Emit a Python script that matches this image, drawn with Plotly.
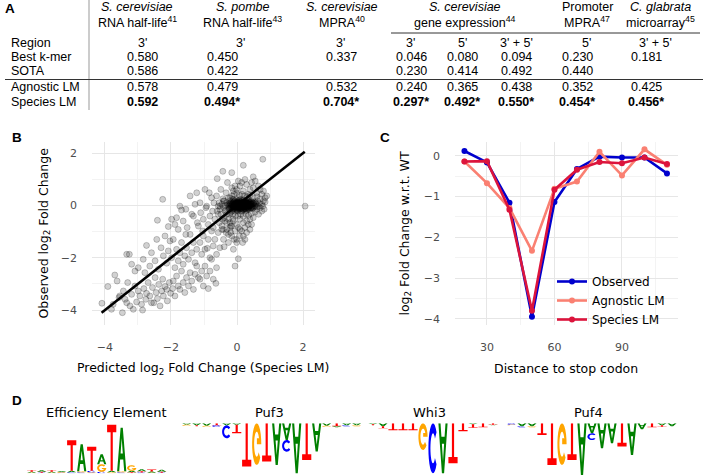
import math
import plotly.graph_objects as go

W, H = 708, 476


def fx(px):
    return px / W


def fy(py):
    return 1 - py / H


# ---------- Panel A: table ----------
table_titles = [
    ("<i>S. cerevisiae</i>", "RNA half-life<sup>41</sup>"),
    ("<i>S. pombe</i>", "RNA half-life<sup>43</sup>"),
    ("<i>S. cerevisiae</i>", "MPRA<sup>40</sup>"),
    ("<i>S. cerevisiae</i>", "gene expression<sup>44</sup>"),
    ("Promoter", "MPRA<sup>47</sup>"),
    ("<i>C. glabrata</i>", "microarray<sup>45</sup>"),
]
row_labels = ["Region", "Best k-mer", "SOTA", "Agnostic LM", "Species LM"]
regions = ["3'", "3'", "3'", "3'", "5'", "3' + 5'", "5'", "3' + 5'"]
best_kmer = ["0.580", "0.450", "0.337", "0.046", "0.080", "0.094", "0.230", "0.181"]
sota = ["0.586", "0.422", "", "0.230", "0.414", "0.492", "0.440", ""]
agnostic = ["0.578", "0.479", "0.532", "0.240", "0.365", "0.438", "0.352", "0.425"]
species = ["0.592", "0.494*", "0.704*", "0.297*", "0.492*", "0.550*", "0.454*", "0.456*"]

# ---------- Panel B: observed vs predicted ----------
scatter_points = [
    # lower-left tail
    (-4.09, -3.74), (-3.91, -3.10), (-3.80, -3.97), (-3.75, -3.78), (-3.70, -2.66),
    (-3.63, -2.89), (-3.57, -3.52), (-3.55, -3.46), (-3.47, -4.10), (-3.44, -3.27),
    (-3.39, -3.59), (-3.34, -3.72), (-3.31, -2.95), (-3.24, -3.84), (-3.19, -3.40),
    (-3.14, -3.97), (-3.09, -3.08), (-3.04, -3.69), (-2.99, -3.27), (-2.94, -3.46),
    (-2.89, -3.78), (-2.86, -4.00), (-2.82, -3.18), (-2.76, -3.59), (-2.74, -3.36),
    (-2.69, -2.95), (-2.64, -3.46), (-2.59, -3.72), (-2.56, -3.14), (-2.52, -3.72),
    (-2.48, -2.76), (-2.45, -3.33), (-2.41, -3.56), (-2.37, -3.02), (-2.33, -3.84),
    (-2.28, -3.27), (-2.23, -3.46), (-2.25, -2.82), (-2.18, -3.10), (-2.13, -3.21),
    (-2.11, -3.65), (-2.05, -2.95), (-2.01, -3.36), (-1.95, -3.18), (-1.93, -2.89),
    (-1.88, -3.46), (-1.83, -2.70), (-1.78, -3.08), (-1.73, -3.21), (-1.68, -2.51),
    (-1.63, -2.95), (-1.58, -3.33), (-1.53, -2.76), (-1.47, -3.08), (-1.42, -2.57),
    (-1.37, -2.89), (-1.32, -3.21), (-1.27, -2.63), (-1.22, -2.32), (-1.17, -2.76),
    (-1.12, -2.82), (-1.07, -2.51), (-1.02, -3.08), (-0.97, -2.32), (-0.92, -2.70),
    (-0.87, -3.18), (-0.82, -2.51), (-0.77, -2.06), (-0.72, -2.82), (-0.64, -2.98),
    (-0.62, -2.38),
    # middle band
    (-3.34, -1.87), (-3.26, -1.87), (-3.19, -2.25), (-3.09, -2.51), (-2.99, -2.38),
    (-2.84, -2.06), (-2.79, -2.57), (-2.74, -1.53), (-2.64, -2.32), (-2.59, -1.81),
    (-2.48, -2.12), (-2.43, -1.30), (-2.38, -2.44), (-2.30, -1.62), (-2.23, -1.93),
    (-2.18, -1.17), (-2.13, -2.21), (-2.08, -1.74), (-2.03, -1.36), (-1.98, -2.00),
    (-1.93, -1.30), (-1.88, -2.38), (-1.83, -1.68), (-1.78, -2.12), (-1.73, -1.81),
    (-1.68, -1.42), (-1.63, -2.25), (-1.58, -1.93), (-1.55, -1.11), (-1.53, -1.62),
    (-1.47, -2.06), (-1.42, -1.11), (-1.37, -1.81), (-1.32, -1.42), (-1.27, -2.19),
    (-1.22, -1.68), (-1.17, -0.79), (-1.12, -1.42), (-1.07, -1.87), (-1.02, -1.17),
    (-0.97, -1.68), (-0.90, -1.64), (-0.87, -1.30), (-0.82, -2.00), (-0.77, -0.98),
    (-0.72, -1.55), (-0.67, -1.30), (-0.62, -1.87), (-0.57, -1.04), (-0.52, -1.62),
    (-0.46, -0.79), (-0.41, -1.30), (-0.39, -1.58), (-0.33, -1.04), (-0.26, -1.42),
    (-0.21, -0.85), (-0.16, -1.17), (-0.11, -1.68), (-0.06, -2.32), (-0.01, -1.30),
    (0.04, -2.04), (0.09, -0.92), (0.19, -1.17),
    # upper middle
    (-2.41, -0.57), (-2.25, 0.23), (-2.08, -0.81), (-1.98, -0.53), (-1.88, -0.73),
    (-1.83, -0.47), (-1.78, -0.92), (-1.73, -0.03), (-1.68, -0.18), (-1.63, -0.60),
    (-1.55, -0.15), (-1.51, -0.85), (-1.42, 0.36), (-1.37, -0.34), (-1.32, -0.41),
    (-1.27, 0.04), (-1.22, 0.48), (-1.20, -0.66), (-1.12, 0.10), (-1.10, -0.28),
    (-1.04, -0.98), (-1.02, -0.53), (-0.97, 0.61), (-0.94, -0.09), (-0.92, -0.03),
    (-0.87, -0.73), (-0.84, 0.48), (-0.82, -0.41), (-0.77, 0.29), (-0.74, -0.22),
    (-0.72, -0.85), (-0.70, 0.10), (-0.67, -0.53), (-0.62, 0.36), (-0.60, 1.02),
    (-0.57, -0.34), (-0.54, -0.66), (-0.52, -0.03), (-0.49, 0.61), (-0.46, -0.92),
    (-0.43, 1.30), (-0.41, 0.17), (-0.39, -0.47), (-0.36, -0.22), (-0.33, 0.48),
    (-0.31, -0.66), (-0.29, 0.87), (-0.26, 0.04), (-0.23, -0.34), (-0.21, 0.29),
    (-0.19, -0.79), (-0.16, 1.25), (-0.16, 0.67), (-0.13, -0.53),
    # outliers
    (2.06, -0.03), (0.78, 1.76), (0.19, 1.53), (0.49, 1.09), (0.90, 0.36),
    (0.85, 0.13), (0.78, -0.03),
    # dense core
    (-0.31, 0.10), (-0.26, -0.03), (-0.23, -0.15), (-0.21, 0.17), (-0.19, 0.04),
    (-0.16, -0.09), (-0.16, -0.22), (-0.13, 0.23), (-0.11, 0.10), (-0.11, -0.03),
    (-0.11, -0.15), (-0.09, 0.04), (-0.08, -0.09), (-0.06, 0.17), (-0.06, -0.03),
    (-0.06, -0.22), (-0.04, 0.10), (-0.03, -0.09), (-0.01, 0.23), (-0.01, 0.04),
    (-0.01, -0.15), (0.01, -0.03), (0.02, 0.13), (0.03, -0.22), (0.04, 0.04),
    (0.05, -0.09), (0.07, 0.17), (0.07, -0.03), (0.09, 0.08), (0.09, -0.15),
    (0.11, 0.23), (0.11, 0.00), (0.13, -0.09), (0.14, 0.10), (0.15, -0.22),
    (0.17, 0.04), (0.17, 0.20), (0.19, -0.03), (0.19, -0.15), (0.21, 0.10),
    (0.23, 0.00), (0.24, 0.17), (0.24, -0.13), (0.26, 0.04), (0.27, -0.05),
    (0.29, 0.10), (0.29, -0.18), (0.31, 0.00), (0.33, 0.17), (0.34, -0.09),
    (0.36, 0.04), (0.37, -0.15), (0.39, 0.10), (0.41, -0.03), (0.43, 0.17),
    (0.44, -0.09), (0.47, 0.04), (0.49, -0.09), (0.52, 0.13), (0.55, -0.03),
    (0.58, 0.04), (0.60, -0.15), (0.62, 0.17), (0.65, -0.03), (0.68, 0.08),
    (0.70, -0.09), (0.75, 0.04), (0.80, 0.17), (0.82, -0.15),
    (-0.14, 0.06), (-0.12, -0.05), (-0.10, 0.12), (-0.08, -0.12), (-0.07, 0.02),
    (-0.05, 0.08), (-0.04, -0.06), (-0.02, 0.14), (-0.01, -0.01), (0.00, 0.07),
    (0.02, -0.10), (0.03, 0.02), (0.04, 0.11), (0.05, -0.04), (0.06, 0.06),
    (0.08, -0.12), (0.08, 0.01), (0.10, 0.09), (0.10, -0.06), (0.12, 0.03),
    (0.13, 0.14), (0.14, -0.02), (0.15, 0.07), (0.16, -0.10), (0.18, 0.01),
    (0.18, 0.12), (0.20, -0.06), (0.21, 0.05), (0.22, -0.14), (0.23, 0.09),
    (0.25, -0.02), (0.26, 0.13), (0.27, -0.09), (0.28, 0.03), (0.30, 0.08),
    (0.31, -0.05), (0.32, 0.14), (0.34, 0.01), (0.35, -0.11), (0.37, 0.06),
    (0.38, -0.02), (0.40, 0.11), (0.42, -0.07), (0.45, 0.03), (0.47, -0.12),
    (0.50, 0.07), (-0.18, -0.08), (-0.20, 0.08), (-0.22, 0.01), (-0.25, -0.12),
    (0.00, -0.18), (0.06, 0.20), (0.12, -0.20), (0.20, 0.20), (0.28, -0.20),
    (-0.10, 0.22), (0.36, 0.20), (0.44, 0.13), (0.55, 0.10), (0.60, -0.06),
    (-0.24, 0.05), (-0.22, -0.10), (-0.19, 0.12), (-0.17, -0.02), (-0.15, -0.15),
    (-0.13, 0.08), (-0.12, 0.00), (-0.10, -0.10), (-0.09, 0.15), (-0.07, -0.04),
    (-0.05, 0.04), (-0.03, -0.14), (-0.02, 0.09), (0.00, 0.00), (0.01, -0.07),
    (0.02, 0.05), (0.04, -0.16), (0.05, 0.13), (0.06, -0.01), (0.07, 0.09),
    (0.09, -0.09), (0.10, 0.03), (0.11, 0.15), (0.12, -0.13), (0.13, 0.06),
    (0.15, -0.04), (0.16, 0.10), (0.17, -0.16), (0.19, 0.02), (0.20, 0.14),
    (0.21, -0.09), (0.22, 0.06), (0.24, -0.03), (0.25, 0.10), (0.26, -0.14),
    (0.28, 0.00), (0.29, 0.13), (0.30, -0.08), (0.32, 0.05), (0.33, -0.13),
    (0.35, 0.09), (0.36, -0.04), (0.38, 0.12), (0.40, 0.00), (0.41, -0.11),
    (0.43, 0.06), (0.46, -0.05), (0.48, 0.10), (0.52, -0.02), (0.57, 0.08),
    (-0.02, 0.02), (0.03, -0.03), (0.08, 0.04), (0.14, 0.00), (0.18, -0.05),
    (0.23, 0.03), (0.27, 0.06), (0.31, 0.02), (0.11, -0.02), (0.20, 0.04),
    # ring around the core
    (-0.26, 0.29), (-0.21, -0.28), (-0.16, 0.36), (-0.13, -0.34), (-0.09, 0.42),
    (-0.05, -0.38), (-0.01, 0.48), (0.03, -0.41), (0.07, 0.38), (0.11, -0.34),
    (0.15, 0.42), (0.19, -0.41), (0.23, 0.36), (0.27, -0.34), (0.31, 0.33),
    (0.35, -0.38), (0.39, 0.38), (0.44, -0.31), (0.49, 0.29), (0.55, -0.25),
    (0.60, 0.33), (0.65, -0.34), (0.70, 0.25), (0.75, -0.22), (-0.41, -0.09),
    (-0.39, 0.17), (-0.36, 0.00), (-0.34, -0.18), (-0.46, 0.04), (-0.43, 0.25),
    (-0.52, -0.15), (-0.54, 0.10), (-0.57, -0.03), (-0.49, -0.34), (-0.45, -0.53),
    (-0.60, -0.22),
    (-0.01, 0.61), (0.09, 0.74), (0.19, 0.55), (0.29, 0.80), (0.39, 0.61),
    (0.49, 0.67), (0.04, 0.93), (0.24, 0.99), (0.34, 0.42), (0.14, 0.87),
    (-0.06, 0.74), (-0.11, 0.55), (0.60, 0.48), (0.70, 0.61), (0.75, 0.42),
    (0.44, 0.87), (0.55, 0.93), (0.80, 0.55), (0.85, 0.29), (0.65, 0.74),
    (0.09, -0.53), (0.19, -0.66), (0.29, -0.60), (0.39, -0.53), (-0.01, -0.73),
    (-0.11, -0.60), (0.04, -0.85), (0.14, -0.98), (0.24, -0.85), (0.34, -0.73),
    (-0.06, -0.98), (-0.16, -0.79), (0.49, -0.47), (0.44, -0.73), (-0.21, -0.66),
    (-0.26, -0.53), (-0.31, -0.34), (-0.36, -0.60), (-0.31, -0.92), (0.07, -1.17),
    (-0.01, -1.42), (-0.09, -1.30), (0.29, -1.04), (0.39, -0.92), (-0.26, -1.11),
    (-0.41, -0.92), (-0.19, -1.04), (0.17, -1.42), (0.24, -1.30),
]
pred_lfc = [p[0] for p in scatter_points]
obs_lfc = [p[1] for p in scatter_points]
identity_line = [-4.1, 2.05]

# ---------- Panel C: mutation scan ----------
distance = [20, 30, 40, 50, 60, 70, 80, 90, 100, 110]
observed = [0.12, -0.16, -1.15, -3.95, -1.13, -0.32, -0.02, -0.04, -0.04, -0.43]
agnostic_lm = [-0.14, -0.67, -1.28, -2.33, -0.81, -0.63, 0.10, -0.48, 0.16, -0.22]
species_lm = [-0.14, -0.13, -1.32, -3.80, -0.83, -0.34, -0.15, -0.18, -0.04, -0.20]

# ---------- Panel D: sequence logos (letter, height) from baseline outwards ----------
logo_titles = ["Efficiency Element", "Puf3", "Whi3", "Puf4"]
efficiency_logo = [
    [("G", 0.05), ("A", 0.1), ("T", 0.15)],
    [("C", 0.05), ("T", 0.1), ("A", 0.15)],
    [("G", 0.05), ("A", 0.1), ("T", 0.15)],
    [("C", 0.05), ("G", 0.08), ("A", 0.1)],
    [("C", 0.1), ("A", 0.15), ("T", 3.05)],
    [("C", 0.1), ("G", 0.1), ("A", 2.7)],
    [("G", 0.1), ("C", 0.15), ("T", 2.4)],
    [("C", 0.15), ("G", 0.75), ("A", 1.0)],
    [("G", 0.1), ("A", 0.15), ("T", 4.6)],
    [("C", 0.1), ("G", 0.1), ("A", 4.35)],
    [("T", 0.1), ("A", 0.15), ("G", 0.55)],
    [("C", 0.08), ("T", 0.12), ("A", 0.2)],
    [("G", 0.05), ("A", 0.12), ("T", 0.2)],
    [("C", 0.05), ("T", 0.1), ("A", 0.2)],
]
puf3_logo = [
    [("A", 0.15), ("G", 0.1)],
    [("A", 0.2), ("T", 0.1)],
    [("A", 0.25), ("G", 0.1)],
    [("T", 0.2), ("C", 0.15)],
    [("A", 0.2), ("C", 1.3)],
    [("A", 0.15), ("T", 0.85)],
    [("T", 4.33)],
    [("G", 4.17)],
    [("T", 3.83)],
    [("A", 4.17)],
    [("A", 1.67), ("C", 1.17)],
    [("A", 5.0)],
    [("T", 3.67)],
    [("A", 2.83)],
    [("A", 0.25), ("G", 0.1)],
    [("T", 0.3), ("A", 0.1)],
    [("A", 0.2), ("C", 0.1)],
    [("A", 0.2), ("G", 0.1)],
]
whi3_logo = [
    [("A", 0.1), ("T", 0.1)],
    [("A", 0.3), ("T", 0.2)],
    [("T", 0.7)],
    [("T", 0.7)],
    [("T", 0.7)],
    [("G", 2.67)],
    [("C", 5.0)],
    [("A", 5.0)],
    [("T", 4.0)],
    [("T", 0.8)],
    [("A", 0.1), ("T", 0.35)],
    [("T", 0.4)],
    [("T", 0.15), ("A", 0.05)],
]
puf4_logo = [
    [("C", 0.15), ("G", 0.05)],
    [("A", 0.3), ("C", 0.1)],
    [("A", 0.3), ("G", 0.1)],
    [("T", 1.17)],
    [("T", 4.17)],
    [("G", 4.17)],
    [("T", 3.67)],
    [("A", 5.17)],
    [("A", 1.0), ("C", 0.67)],
    [("A", 2.5)],
    [("A", 2.0)],
    [("T", 2.33)],
    [("A", 3.17)],
    [("A", 0.6)],
    [("T", 0.4)],
    [("A", 0.2), ("T", 0.15)],
    [("A", 0.3)],
]
letter_colors = {"A": "#008000", "C": "#0000FF", "G": "#FFA500", "T": "#FF0000"}

# ---------- helpers ----------
FONT = "DejaVu Sans"
TFONT = "Liberation Sans"


def arc(cx, cy, rx, ry, a0, a1, n=22):
    return [(cx + rx * math.cos(math.radians(a0 + (a1 - a0) * i / n)),
             cy + ry * math.sin(math.radians(a0 + (a1 - a0) * i / n))) for i in range(n + 1)]


def glyph(letter):
    if letter == "T":
        return [[(0, 1), (1, 1), (1, 0.84), (0.62, 0.84), (0.62, 0), (0.38, 0), (0.38, 0.84), (0, 0.84)]]
    if letter == "A":
        return [[(0, 0), (0.38, 1), (0.62, 1), (1, 0), (0.77, 0), (0.67, 0.27), (0.33, 0.27), (0.23, 0)],
                [(0.38, 0.41), (0.5, 0.76), (0.62, 0.41)]]
    if letter == "C":
        return [arc(0.5, 0.5, 0.5, 0.5, 40, 320) + arc(0.5, 0.5, 0.28, 0.3, 320, 40)]
    # G
    return [arc(0.5, 0.5, 0.5, 0.5, 40, 360) + [(0.52, 0.5), (0.52, 0.36), (0.77, 0.36)]
            + arc(0.5, 0.5, 0.28, 0.3, 334, 40)]


def logo_shapes(logo, xref, yref, sign):
    shapes = []
    for i, stack in enumerate(logo):
        base = 0.0
        for letter, h in stack:
            h = sign * h
            path = ""
            for poly in glyph(letter):
                pts = [(i + 0.04 + 0.92 * u, base + h * v) for u, v in poly]
                path += "M" + " L".join(f"{x:.4f},{y:.4f}" for x, y in pts) + " Z "
            shapes.append(dict(type="path", path=path, xref=xref, yref=yref,
                               fillcolor=letter_colors[letter], line=dict(width=0),
                               fillrule="evenodd", layer="above"))
            base += h
    return shapes


# ---------- figure ----------
fig = go.Figure()

fig.add_trace(go.Scatter(
    x=pred_lfc, y=obs_lfc, mode="markers", showlegend=False,
    marker=dict(size=6, color="rgba(0,0,0,0.18)", line=dict(width=0.7, color="rgba(0,0,0,0.3)")),
    xaxis="x", yaxis="y"))
fig.add_trace(go.Scatter(
    x=identity_line, y=identity_line, mode="lines", showlegend=False,
    line=dict(color="black", width=2.6), xaxis="x", yaxis="y"))

for name, vals, col in [("Observed", observed, "#0000CD"),
                        ("Agnostic LM", agnostic_lm, "#FA8072"),
                        ("Species LM", species_lm, "#DC143C")]:
    fig.add_trace(go.Scatter(
        x=distance, y=vals, name=name, mode="lines+markers",
        line=dict(color=col, width=2.6), marker=dict(color=col, size=6),
        xaxis="x2", yaxis="y2"))

grid = dict(showgrid=True, gridcolor="#E6E6E6", gridwidth=1, zeroline=False, showline=False,
            ticks="", tickfont=dict(family=FONT, size=11, color="#4D4D4D"),
            ticklabelstandoff=14, fixedrange=True)
minor = dict(showgrid=True, gridcolor="#F3F3F3", gridwidth=0.6)

axes = dict(
    xaxis=dict(domain=[fx(92), fx(315)], range=[-4.39, 2.36], tickvals=[-4, -2, 0, 2],
               anchor="y", minor=dict(dtick=1, tick0=0, **minor), **grid),
    yaxis=dict(domain=[fy(325), fy(142)], range=[-4.57, 2.42], tickvals=[-4, -2, 0, 2],
               anchor="x", minor=dict(dtick=1, tick0=0, **minor), **grid),
    xaxis2=dict(domain=[fx(455), fx(678)], range=[15.8, 114.9], tickvals=[30, 60, 90],
                anchor="y2", minor=dict(dtick=15, tick0=0, **minor), **grid),
    yaxis2=dict(domain=[fy(325), fy(142)], range=[-4.15, 0.34], tickvals=[-4, -3, -2, -1, 0],
                anchor="x2", minor=dict(dtick=0.5, tick0=0, **minor), **grid),
)

logo_specs = [
    (efficiency_logo, 26.7, 166.7, 473.3, 420.0, 1, 106),
    (puf3_logo, 181.7, 361.7, 476.0, 423.3, -1, 269),
    (whi3_logo, 368.0, 498.0, 476.0, 423.3, -1, 429),
    (puf4_logo, 507.0, 677.0, 476.0, 423.3, -1, 588),
]
shapes = []
annotations = []
for k, (logo, x0, x1, yb, yt, sign, tx) in enumerate(logo_specs):
    n = k + 3
    span = (yb - yt) / 10.0
    yr = [0, span] if sign > 0 else [-span, 0]
    axes[f"xaxis{n}"] = dict(domain=[fx(x0), fx(x1)], range=[0, len(logo)], visible=False,
                             anchor=f"y{n}", fixedrange=True)
    axes[f"yaxis{n}"] = dict(domain=[fy(yb), fy(yt)], range=yr, visible=False,
                             anchor=f"x{n}", fixedrange=True)
    shapes += logo_shapes(logo, f"x{n}", f"y{n}", sign)
    annotations.append(dict(text=logo_titles[k], x=fx(tx), y=fy(412), xref="paper", yref="paper",
                            showarrow=False, font=dict(family=FONT, size=13, color="black"),
                            xanchor="center", yanchor="middle"))

# table text
tsize = 12.5
head_x = [137, 243, 342, 465, 587, 660]
region_x = [142, 240, 340, 410, 462, 516, 586, 655]
value_x = [142, 222, 341, 411, 462, 516, 577, 646]


def ann(text, px, py, size=tsize, anchor="center", family=TFONT, weight="normal", **kw):
    annotations.append(dict(text=text, x=fx(px), y=fy(py), xref="paper", yref="paper",
                            showarrow=False, xanchor=anchor, yanchor="middle",
                            font=dict(family=family, size=size, color="black", weight=weight), **kw))


for (t1, t2), px in zip(table_titles, head_x):
    ann(t1, px, 7.5)
    ann(t2, px, 22)
row_y = [42.7, 56.7, 70.7, 87.3, 101.7]
for lab, py in zip(row_labels, row_y):
    ann(lab, 9, py, anchor="left")
for px, v in zip(region_x, regions):
    ann(v, px, row_y[0])
for row, py in zip([best_kmer, sota, agnostic], row_y[1:4]):
    for px, v in zip(value_x, row):
        if v:
            ann(v, px, py)
for px, v in zip(value_x, species):
    ann(v, px, row_y[4], weight="bold")

shapes += [
    dict(type="line", xref="paper", yref="paper", x0=fx(89), x1=fx(89), y0=fy(0), y1=fy(110),
         line=dict(color="#999999", width=1)),
    dict(type="line", xref="paper", yref="paper", x0=fx(5), x1=fx(703), y0=fy(79.5), y1=fy(79.5),
         line=dict(color="#333333", width=1)),
    dict(type="line", xref="paper", yref="paper", x0=fx(391), x1=fx(700), y0=fy(33), y1=fy(33),
         line=dict(color="#333333", width=1)),
]

# panel letters
for lab, px, py in [("A", 10, 8), ("B", 17, 137), ("C", 385, 137), ("D", 17, 400)]:
    ann(lab, px, py, size=13.5, family="Liberation Sans", weight="bold")

# axis titles
ann("Predicted log<sub>2</sub> Fold Change (Species LM)", 203, 368, size=12.5, family=FONT)
ann("Observed log<sub>2</sub> Fold Change", 44, 233.5, size=12.5, family=FONT, textangle=-90)
ann("Distance to stop codon", 566, 368, size=12.5, family=FONT)
ann("log<sub>2</sub> Fold Change w.r.t. WT", 405, 233.5, size=12.5, family=FONT, textangle=-90)

fig.update_layout(
    width=W, height=H, margin=dict(l=0, r=0, t=0, b=0),
    paper_bgcolor="white", plot_bgcolor="white",
    shapes=shapes, annotations=annotations,
    legend=dict(x=fx(552), y=fy(267), xanchor="left", yanchor="top",
                font=dict(family=FONT, size=12, color="black"),
                bgcolor="rgba(0,0,0,0)", itemwidth=30, tracegroupgap=0),
    **axes,
)

# the page's default 8px body margin would shift the figure; remove it
fig.write_html("out.html", config={"displayModeBar": False},
               post_script="document.body.style.margin='0';")
